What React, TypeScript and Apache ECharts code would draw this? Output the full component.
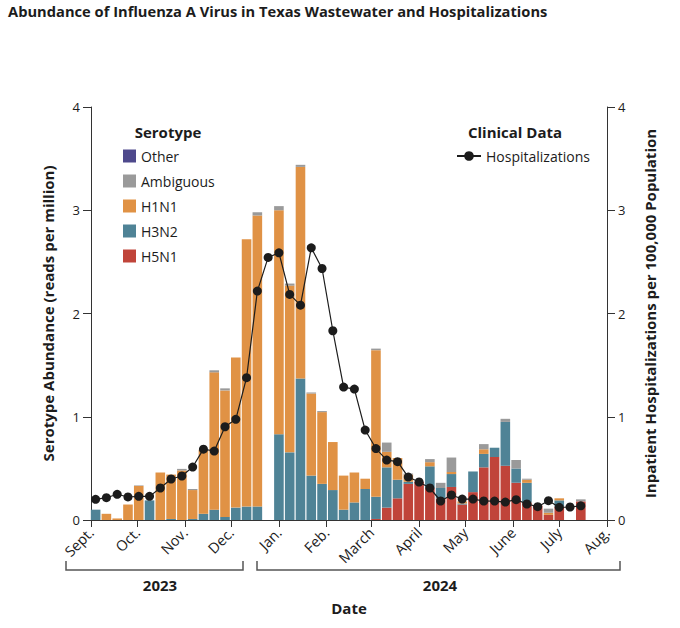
import React, { useEffect, useRef } from "react";
import * as echarts from "echarts";

const weekStarts = [
  "2023-09-04", "2023-09-11", "2023-09-18", "2023-09-25", "2023-10-02", "2023-10-09",
  "2023-10-16", "2023-10-23", "2023-10-30", "2023-11-06", "2023-11-13", "2023-11-20",
  "2023-11-27", "2023-12-04", "2023-12-11", "2023-12-18", "2023-12-25", "2024-01-01",
  "2024-01-08", "2024-01-15", "2024-01-22", "2024-01-29", "2024-02-05", "2024-02-12",
  "2024-02-19", "2024-02-26", "2024-03-04", "2024-03-11", "2024-03-18", "2024-03-25",
  "2024-04-01", "2024-04-08", "2024-04-15", "2024-04-22", "2024-04-29", "2024-05-06",
  "2024-05-13", "2024-05-20", "2024-05-27", "2024-06-03", "2024-06-10", "2024-06-17",
  "2024-06-24", "2024-07-01", "2024-07-08", "2024-07-15",
];

const h5n1 = [
  0, 0, 0, 0, 0, 0, 0, 0, 0, 0, 0, 0, 0, 0, 0, 0, null, 0, 0, 0, 0, 0, 0, 0, 0, 0,
  0.01, 0.12, 0.21, 0.35, 0.37, 0.31, 0.21, 0.32, 0.15, 0.27, 0.51, 0.61, 0.525, 0.36,
  0.17, 0.14, 0.05, 0.13, null, 0.18,
];
const h3n2 = [
  0.1, 0, 0, 0, 0, 0.19, 0, 0.01, 0, 0.01, 0.06, 0.1, 0.03, 0.12, 0.13, 0.13, null,
  0.83, 0.655, 1.37, 0.43, 0.35, 0.29, 0.1, 0.17, 0.3, 0.215, 0.39, 0.18, 0.02, 0,
  0.21, 0.1, 0.125, 0.01, 0.2, 0.13, 0.09, 0.425, 0.14, 0.19, 0, 0, 0.06, null, 0,
];
const h1n1 = [
  0, 0.06, 0.015, 0.15, 0.33, 0, 0.46, 0.43, 0.48, 0.28, 0.62, 1.33, 1.225, 1.455,
  2.59, 2.82, null, 2.17, 1.615, 2.05, 0.795, 0.695, 0.465, 0.33, 0.29, 0.1, 1.42,
  0.15, 0.21, 0.07, 0, 0.04, 0, 0.02, 0.02, 0, 0.045, 0, 0, 0, 0.03, 0, 0.02, 0.02,
  null, 0,
];
const ambiguous = [
  0, 0, 0, 0, 0.005, 0, 0, 0, 0.015, 0.01, 0, 0.02, 0.02, 0, 0, 0.03, null, 0.04,
  0.02, 0.02, 0.01, 0.01, 0, 0, 0, 0, 0.015, 0.09, 0, 0.01, 0, 0.03, 0.05, 0.14, 0,
  0, 0.05, 0, 0.03, 0.08, 0.01, 0, 0.04, 0, null, 0.02,
];
const other = [
  0, 0, 0, 0, 0, 0, 0, 0, 0, 0, 0, 0, 0, 0, 0, 0, null, 0, 0, 0, 0, 0, 0, 0, 0, 0,
  0, 0, 0, 0, 0, 0, 0, 0, 0, 0, 0, 0, 0, 0, 0, 0, 0, 0, null, 0,
];
const hospitalizations = [
  0.2, 0.216, 0.249, 0.223, 0.229, 0.229, 0.31, 0.397, 0.426, 0.513, 0.686, 0.668,
  0.903, 0.975, 1.378, 2.217, 2.543, 2.588, 2.185, 2.081, 2.636, 2.436, 1.833, 1.287,
  1.268, 0.871, 0.692, 0.58, 0.565, 0.416, 0.368, 0.31, 0.184, 0.242, 0.203, 0.203,
  0.184, 0.183, 0.174, 0.197, 0.155, 0.129, 0.187, 0.123, 0.126, 0.137,
];

const monthTicks = [
  "2023-09-01", "2023-10-01", "2023-11-01", "2023-12-01", "2024-01-01", "2024-02-01",
  "2024-03-01", "2024-04-01", "2024-05-01", "2024-06-01", "2024-07-01", "2024-08-01",
];
const monthLabels = [
  "Sept.", "Oct.", "Nov.", "Dec.", "Jan.", "Feb.", "March", "April", "May", "June", "July", "Aug.",
];
const yTicks = [0, 1, 2, 3, 4];

const serotypeNames = ["Other", "Ambiguous", "H1N1", "H3N2", "H5N1"];
const colors: Record<string, string> = {
  Other: "#4e498c",
  Ambiguous: "#9a9a9a",
  H1N1: "#e09245",
  H3N2: "#4f8396",
  H5N1: "#c0443a",
};

const FONT = "'Open Sans', 'Noto Sans', sans-serif";
const INK = "#1c1c1c";

export default function App() {
  const ref = useRef<HTMLDivElement>(null);

  useEffect(() => {
    document.body.style.margin = "0";
    const chart = echarts.init(ref.current as HTMLDivElement, null, { renderer: "svg" });
    const ts = (s: string) => echarts.number.parseDate(s).getTime();
    const tickValues = monthTicks.map(ts);

    // value first, date second: the stacked dimension is then the value
    const mk = (arr: (number | null)[]) => weekStarts.map((d, i) => [arr[i], ts(d)]);
    const stackOrder: [string, (number | null)[]][] = [
      ["H5N1", h5n1],
      ["H3N2", h3n2],
      ["H1N1", h1n1],
      ["Ambiguous", ambiguous],
      ["Other", other],
    ];

    const barSeries = stackOrder.map(([name, arr]) => ({
      name,
      type: "bar",
      stack: "sero",
      barWidth: 9.6,
      yAxisIndex: 0,
      encode: { x: 1, y: 0 },
      itemStyle: { color: colors[name] },
      data: mk(arr),
      z: 2,
    }));

    const yAxisBase = {
      type: "value",
      min: 0,
      max: 4,
      interval: 1,
      splitLine: { show: false },
      axisLine: { show: true, lineStyle: { color: "#333", width: 1 } },
      axisTick: { show: true, length: 8, lineStyle: { color: "#333" } },
      axisLabel: {
        color: INK,
        fontSize: 13,
        fontFamily: FONT,
        margin: 11,
        formatter: (v: number) => (yTicks.includes(v) ? String(v) : ""),
      },
      nameLocation: "middle",
      nameTextStyle: { fontFamily: FONT, fontWeight: "bold", fontSize: 15, color: INK },
    };

    const option = {
      animation: false,
      backgroundColor: "#ffffff",
      textStyle: { fontFamily: FONT },
      grid: { left: 91, right: 73, top: 107, bottom: 108, containLabel: false },
      legend: [
        {
          data: serotypeNames.map((n) => ({ name: n, icon: "rect" })),
          orient: "vertical",
          left: 118,
          top: 144,
          itemWidth: 13,
          itemHeight: 13,
          itemGap: 11,
          selectedMode: false,
          textStyle: { fontSize: 14, color: INK, fontFamily: FONT },
        },
        {
          data: ["Hospitalizations"],
          left: 451,
          top: 144,
          itemWidth: 24,
          itemHeight: 12,
          selectedMode: false,
          textStyle: { fontSize: 14, color: INK, fontFamily: FONT },
        },
      ],
      xAxis: {
        type: "value",
        min: tickValues[0],
        max: tickValues[tickValues.length - 1],
        splitLine: { show: false },
        axisLine: { show: true, lineStyle: { color: "#333", width: 1 } },
        axisTick: { show: true, length: 7, customValues: tickValues, lineStyle: { color: "#333" } },
        axisLabel: {
          customValues: tickValues,
          rotate: 45,
          margin: 10,
          color: INK,
          fontSize: 14.5,
          fontFamily: FONT,
          formatter: (v: number) => {
            const i = tickValues.indexOf(v);
            return i >= 0 ? monthLabels[i] : "";
          },
        },
        name: "Date",
        nameLocation: "middle",
        nameGap: 80,
        nameTextStyle: { fontFamily: FONT, fontWeight: "bold", fontSize: 15, color: INK },
      },
      yAxis: [
        { ...yAxisBase, position: "left", name: "Serotype Abundance (reads per million)", nameGap: 36 },
        { ...yAxisBase, position: "right", name: "Inpatient Hospitalizations per 100,000 Population", nameGap: 35 },
      ],
      series: [
        ...barSeries,
        {
          name: "Hospitalizations",
          type: "line",
          yAxisIndex: 1,
          encode: { x: 1, y: 0 },
          data: mk(hospitalizations),
          symbol: "circle",
          symbolSize: 9,
          showSymbol: true,
          lineStyle: { color: INK, width: 1.2 },
          itemStyle: { color: INK },
          z: 5,
        },
      ],
      graphic: [
        {
          type: "text",
          left: 8,
          top: 3,
          style: {
            text: "Abundance of Influenza A Virus in Texas Wastewater and Hospitalizations",
            font: `bold 14.7px ${FONT}`,
            fill: INK,
          },
        },
        {
          type: "text",
          x: 168,
          y: 131.5,
          style: { text: "Serotype", font: `bold 15px ${FONT}`, fill: INK, align: "center", verticalAlign: "middle" },
        },
        {
          type: "text",
          x: 515,
          y: 131.5,
          style: { text: "Clinical Data", font: `bold 15px ${FONT}`, fill: INK, align: "center", verticalAlign: "middle" },
        },
        {
          type: "polyline",
          shape: { points: [[66, 561], [66, 570], [243, 570], [243, 561]] },
          style: { stroke: "#555", lineWidth: 1.5, fill: "none" },
        },
        {
          type: "polyline",
          shape: { points: [[257, 561], [257, 570], [620, 570], [620, 561]] },
          style: { stroke: "#555", lineWidth: 1.5, fill: "none" },
        },
        {
          type: "text",
          x: 160,
          y: 585,
          style: { text: "2023", font: `bold 15px ${FONT}`, fill: INK, align: "center", verticalAlign: "middle" },
        },
        {
          type: "text",
          x: 440,
          y: 585,
          style: { text: "2024", font: `bold 15px ${FONT}`, fill: INK, align: "center", verticalAlign: "middle" },
        },
      ],
    };

    chart.setOption(option as any);
    return () => chart.dispose();
  }, []);

  return <div ref={ref} style={{ width: 680, height: 628 }} />;
}
